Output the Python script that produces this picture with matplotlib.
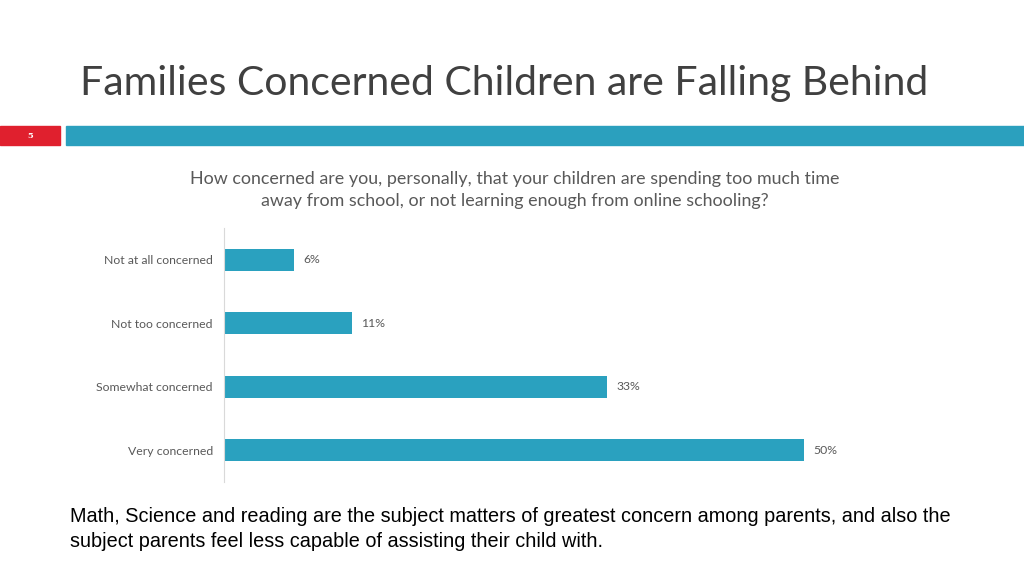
import matplotlib.pyplot as plt
import matplotlib.patches as mpatches

# survey data
categories = ['Not at all concerned', 'Not too concerned', 'Somewhat concerned', 'Very concerned']
values = [6, 11, 33, 50]
value_labels = ['6%', '11%', '33%', '50%']

title = 'Families Concerned Children are Falling Behind'
question = ('How concerned are you, personally, that your children are spending too much time\n'
            'away from school, or not learning enough from online schooling?')
footer = ('Math, Science and reading are the subject matters of greatest concern among parents, and also the\n'
          'subject parents feel less capable of assisting their child with.')
slide_no = '5'

bar_color = '#2aa1bf'
gray = '#595959'

fig = plt.figure(figsize=(10.24, 5.76), dpi=100)
W, H = 1024, 576

# header bands
fig.patches.append(mpatches.Rectangle((0, 1 - 145 / H), 60 / W, 19 / H,
                                      transform=fig.transFigure, color='#e0202e', zorder=1))
fig.patches.append(mpatches.Rectangle((66 / W, 1 - 145 / H), 1 - 66 / W, 19 / H,
                                      transform=fig.transFigure, color='#2ba0be', zorder=1))
fig.text(30 / W, 1 - 135.5 / H, slide_no, color='white', fontsize=6, fontweight='bold',
         ha='center', va='center', family='DejaVu Serif')

fig.text(80 / W, 1 - 83 / H, title, fontsize=29.5, color='#404040', family='Lato',
         ha='left', va='center')
fig.text(515 / W, 1 - 190 / H, question, fontsize=12.9, color=gray, family='Lato',
         ha='center', va='center', linespacing=1.52)
fig.text(70 / W, 1 - 529 / H, footer, fontsize=14.3, color='black', family='Liberation Sans',
         ha='left', va='center', linespacing=1.43)

ax = fig.add_axes([224 / W, 1 - 482 / H, (920 - 224) / W, 254 / H])
ypos = list(range(len(categories)))
ax.barh(ypos, values, height=0.35, color=bar_color)
for y, v, lab in zip(ypos, values, value_labels):
    ax.text(v + 0.8, y, lab, va='center', ha='left', fontsize=8.8, color=gray, family='Lato')

ax.set_xlim(0, 60)
ax.set_ylim(3.5, -0.5)
ax.set_yticks(ypos)
ax.set_yticklabels(categories, fontsize=8.8, color=gray, family='Lato')
ax.tick_params(axis='y', length=0, pad=8)
ax.set_xticks([])
for s in ['top', 'right', 'bottom']:
    ax.spines[s].set_visible(False)
ax.spines['left'].set_color('#d9d9d9')
ax.patch.set_alpha(0)

fig.savefig('out.png', dpi=100)
